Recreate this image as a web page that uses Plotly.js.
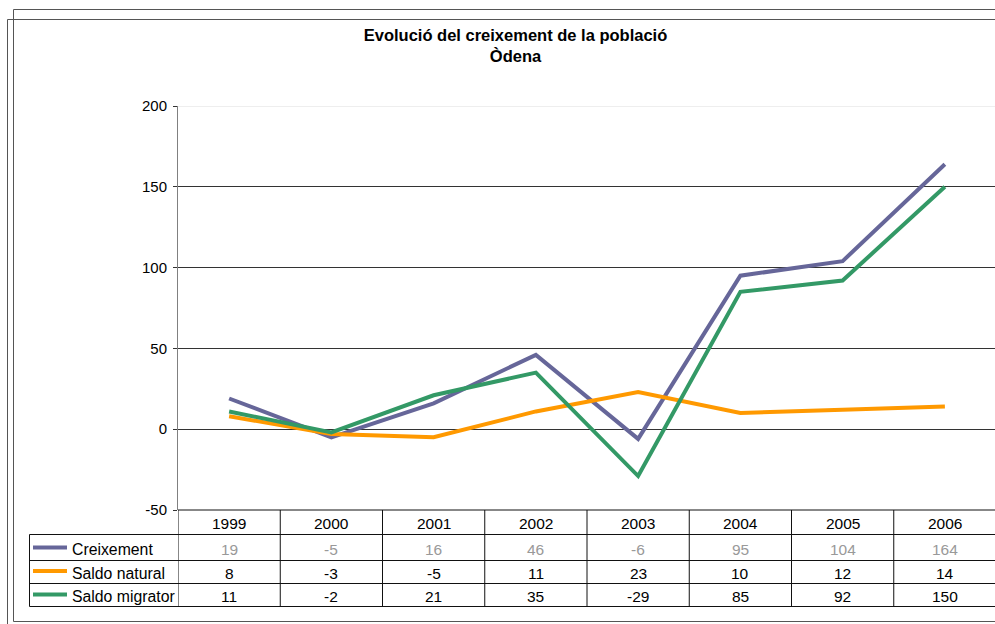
<!DOCTYPE html>
<html>
<head>
<meta charset="utf-8">
<script src="https://cdn.plot.ly/plotly-3.0.1.min.js"></script>
<style>
html,body{margin:0;padding:0;background:#fff;overflow:hidden;}
#chart{width:996px;height:624px;}
</style>
</head>
<body>
<div id="chart"></div>
<script>
// ---- data ----
const years = ['1999','2000','2001','2002','2003','2004','2005','2006'];
const creixement = [19, -5, 16, 46, -6, 95, 104, 164];
const saldoNatural = [8, -3, -5, 11, 23, 10, 12, 14];
const saldoMigratori = [11, -2, 21, 35, -29, 85, 92, 150];
const seriesNames = ['Creixement', 'Saldo natural', 'Saldo migrator'];
const yTicks = [-50, 0, 50, 100, 150, 200];

// ---- layout helpers (pixel -> paper) ----
const W = 996, H = 624, L = 178, T = 106, B = 114, R = 0;
const PW = W - L - R, PH = H - T - B;
const X = px => (px - L) / PW;
const Y = py => (H - B - py) / PH;
const FONT = 'Arial, "Liberation Sans", sans-serif';
const colors = ['#666699', '#ff9900', '#339966'];
const valueColors = ['#999999', '#000000', '#000000'];
const series = [creixement, saldoNatural, saldoMigratori];

const traces = series.map((s, k) => ({
  type: 'scatter', mode: 'lines', x: years, y: s, name: seriesNames[k],
  line: {color: colors[k], width: 4}, hoverinfo: 'skip'
}));

const shapes = [];
const annotations = [];
const line = (x0, y0, x1, y1, color, xref, w) => shapes.push({
  type: 'line', xref: xref || 'paper', yref: 'paper', x0, y0, x1, y1,
  line: {color, width: w || 1}, layer: 'above'
});

// outer frames
const FR = '#555555';
line(X(13.5), Y(9.5), X(1100), Y(9.5), FR);
line(X(13.5), Y(9.5), X(13.5), Y(621.5), FR);
line(X(13.5), Y(621.5), X(1100), Y(621.5), FR);
line(X(7.5), Y(19.5), X(1100), Y(19.5), FR);
line(X(7.5), Y(19.5), X(7.5), Y(700), FR);

// light top gridline at 200
shapes.push({type: 'line', xref: 'paper', yref: 'y', x0: 0, x1: 1, y0: 200, y1: 200,
  line: {color: '#dddddd', width: 1}, layer: 'above'});

// data table grid
const TL = '#111111';
const rowLines = [534.5, 560.5, 583.5, 606.5];
line(0, Y(510), 1.1, Y(510), TL);
rowLines.forEach(py => line(X(29.5), Y(py), 1.1, Y(py), TL));
line(X(29.5), Y(534.5), X(29.5), Y(606.5), TL);
for (let i = 0; i <= years.length; i++) {
  line(i - 0.5, Y(510), i - 0.5, Y(606.5), TL, 'x');
}

// header years
const headerY = 523;
const rowY = [549.5, 573, 596.5];
years.forEach((yr, i) => annotations.push({
  xref: 'x', yref: 'paper', x: i, y: Y(headerY), text: yr, showarrow: false,
  xanchor: 'center', yanchor: 'middle', font: {family: FONT, size: 15.5, color: '#000'}
}));
// rows
series.forEach((s, k) => {
  s.forEach((v, i) => annotations.push({
    xref: 'x', yref: 'paper', x: i, y: Y(rowY[k]), text: String(v), showarrow: false,
    xanchor: 'center', yanchor: 'middle', font: {family: FONT, size: 15.5, color: valueColors[k]}
  }));
  line(X(33), Y(rowY[k] - 2), X(67), Y(rowY[k] - 2), colors[k], 'paper', 4);
  annotations.push({
    xref: 'paper', yref: 'paper', x: X(70), y: Y(rowY[k]), text: seriesNames[k], showarrow: false,
    xanchor: 'left', yanchor: 'middle', font: {family: FONT, size: 15.8, color: '#000'}
  });
});

const layout = {
  width: W, height: H,
  margin: {l: L, r: R, t: T, b: B, pad: 0},
  paper_bgcolor: '#ffffff', plot_bgcolor: '#ffffff',
  showlegend: false,
  font: {family: FONT, size: 15, color: '#000'},
  title: {
    text: '<b>Evolució del creixement de la població<br>Òdena</b>',
    font: {family: FONT, size: 16.5, color: '#000'},
    xref: 'container', x: 515.5 / W, xanchor: 'center',
    yref: 'container', y: 1 - 41 / H, yanchor: 'middle'
  },
  xaxis: {
    type: 'category', range: [-0.5, 7.5], showticklabels: false, showgrid: false,
    zeroline: false, showline: false, ticks: '', fixedrange: true
  },
  yaxis: {
    range: [-50, 200], tickvals: yTicks, ticktext: yTicks.map(String),
    ticks: 'outside', ticklen: 4, tickcolor: '#333333', tickwidth: 1,
    showline: true, linecolor: '#808080', linewidth: 1, ticklabelstandoff: 3,
    showgrid: true, gridcolor: '#333333', gridwidth: 1, zeroline: false,
    tickfont: {family: FONT, size: 15, color: '#000'}, fixedrange: true
  },
  shapes, annotations
};

Plotly.newPlot('chart', traces, layout, {displayModeBar: false, staticPlot: true});
</script>
</body>
</html>
